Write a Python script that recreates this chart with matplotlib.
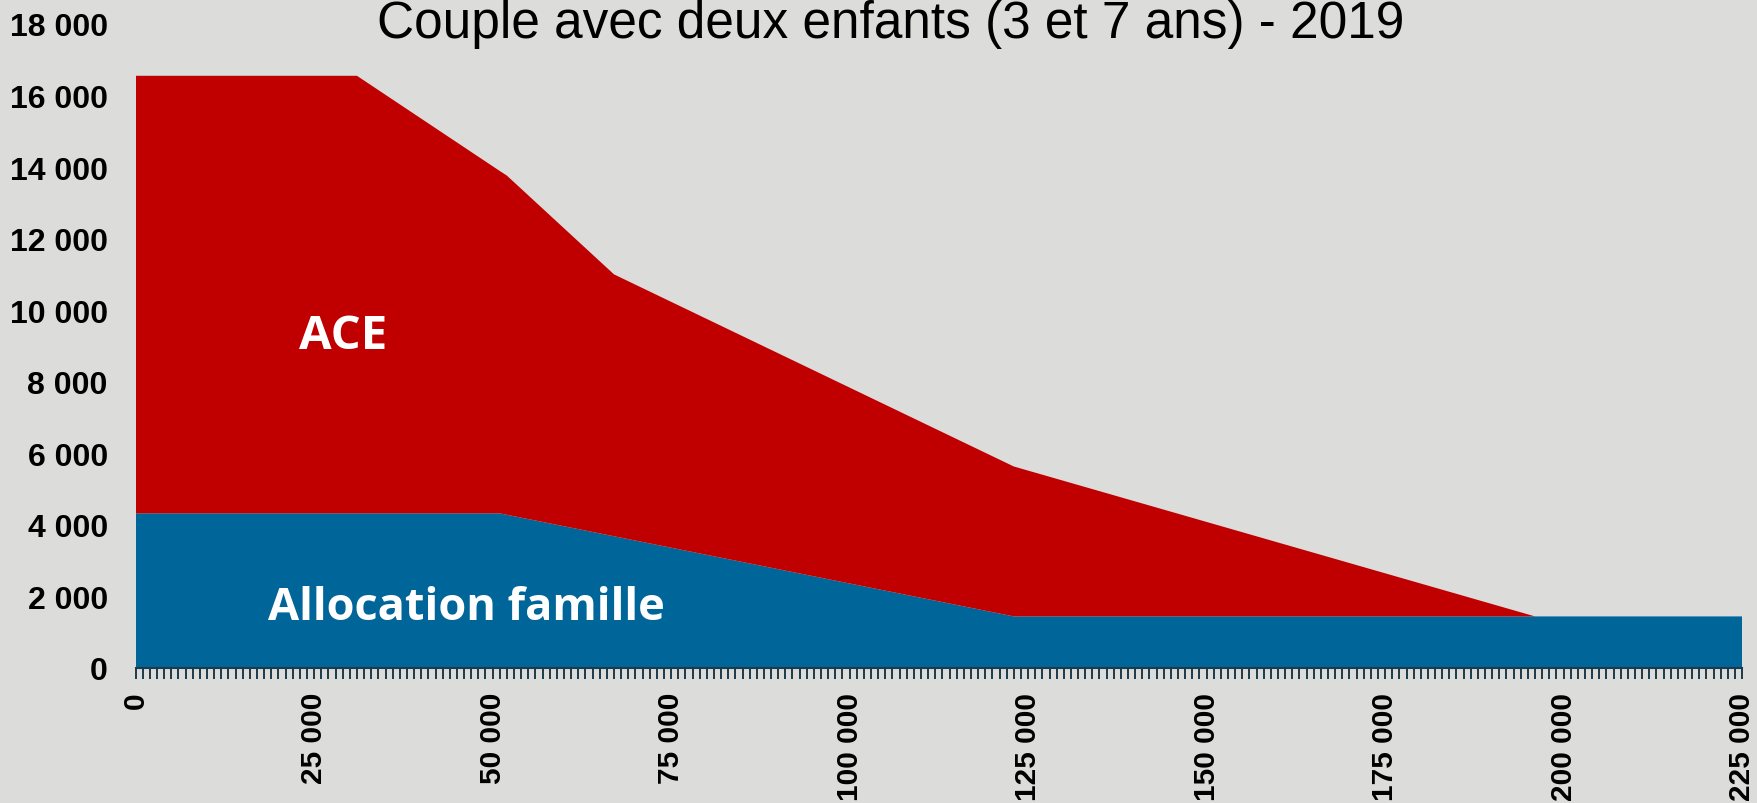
import matplotlib
matplotlib.use("Agg")
import matplotlib.pyplot as plt
from matplotlib.ticker import MultipleLocator, FuncFormatter
from matplotlib import font_manager

# ---- data ----
income = [0, 31000, 51000, 52000, 67000, 123000, 196000, 225000]
allocation_famille = [4320, 4320, 4320, 4280, 3680, 1440, 1440, 1440]
ace = [12230, 12230, 9570, 9480, 7320, 4190, 0, 0]
series_labels = ["Allocation famille", "ACE"]
title = "Couple avec deux enfants (3 et 7 ans) - 2019"
x_ticks = [0, 25000, 50000, 75000, 100000, 125000, 150000, 175000, 200000, 225000]
y_ticks = [0, 2000, 4000, 6000, 8000, 10000, 12000, 14000, 16000, 18000]

BG = "#dcdcda"
BLUE = "#006699"
RED = "#c00000"
AXIS = "#1b3a4b"

names = {f.name for f in font_manager.fontManager.ttflist}
title_font = "Liberation Sans Narrow" if "Liberation Sans Narrow" in names else "Liberation Sans"
label_font = "Open Sans" if "Open Sans" in names else "DejaVu Sans"

fig = plt.figure(figsize=(17.57, 8.04), dpi=100, facecolor=BG)
ax = fig.add_axes([0.0772, 0.168, 0.9143, 0.801])
ax.set_facecolor(BG)

ax.stackplot(income, allocation_famille, ace, colors=[BLUE, RED],
             linewidth=0, labels=series_labels)

ax.set_xlim(0, 225000)
ax.set_ylim(0, 18000)

fmt = FuncFormatter(lambda v, p: f"{v:,.0f}".replace(",", " "))
ax.set_xticks(x_ticks)
ax.xaxis.set_minor_locator(MultipleLocator(1000))
ax.xaxis.set_major_formatter(fmt)
ax.set_yticks(y_ticks)
ax.yaxis.set_major_formatter(fmt)

for s in ["top", "right", "left"]:
    ax.spines[s].set_visible(False)
ax.spines["bottom"].set_color(AXIS)
ax.spines["bottom"].set_linewidth(1.5)

ax.tick_params(axis="x", which="both", direction="out", length=8, width=1.4,
               color=AXIS)
ax.tick_params(axis="x", which="major", pad=9)
ax.tick_params(axis="y", which="both", length=0, pad=20)

for lab in ax.get_xticklabels():
    lab.set_rotation(90)
    lab.set_fontfamily("Liberation Sans")
    lab.set_fontweight("bold")
    lab.set_fontsize(21.5)
for lab in ax.get_yticklabels():
    lab.set_fontfamily("Liberation Sans")
    lab.set_fontweight("bold")
    lab.set_fontsize(23)

fig.text(0.507, 0.970, title, ha="center", va="center",
         fontfamily=title_font, fontsize=37, color="black")

ax.text(29000, 9300, "ACE", ha="center", va="center", color="white",
        fontfamily=label_font, fontweight="bold", fontsize=34)
ax.text(46400, 1700, "Allocation famille", ha="center", va="center",
        color="white", fontfamily=label_font, fontweight="bold", fontsize=32.5)

fig.savefig("out.png", dpi=100, facecolor=BG)
